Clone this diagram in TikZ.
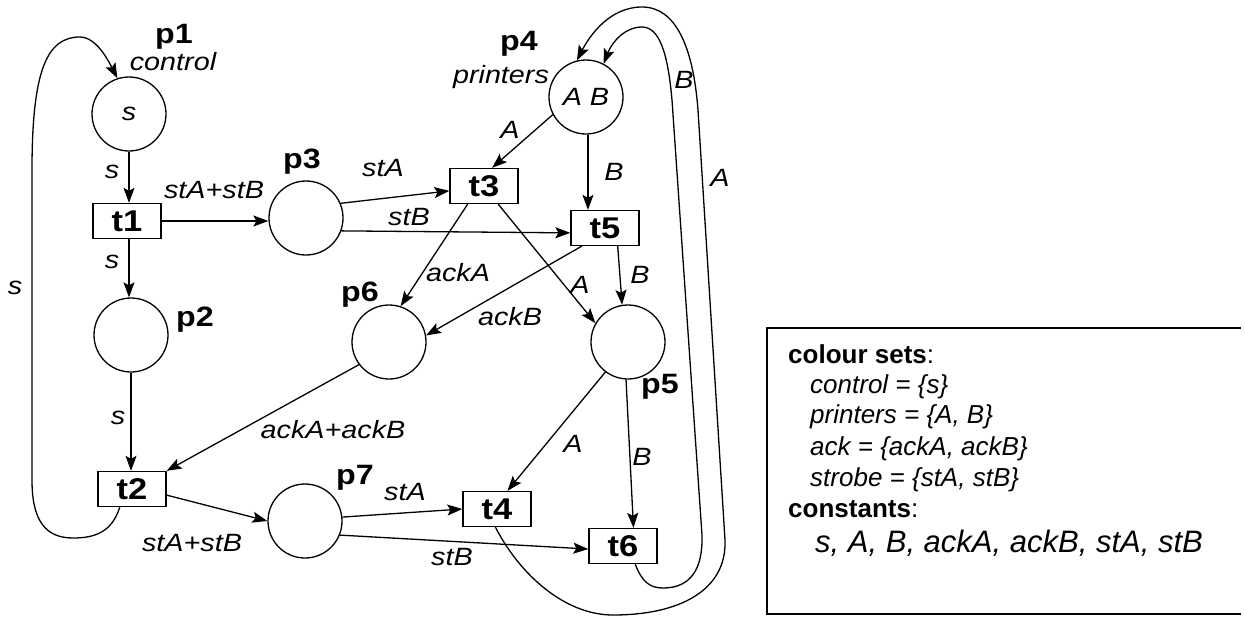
\documentclass[tikz,border=0pt]{standalone}
\usepackage{fontspec}
\setmainfont{Liberation Sans}
\newfontfamily\dfont[FakeStretch=1.15]{Liberation Sans}
\usetikzlibrary{arrows.meta}
\tikzset{
 place/.style={circle,draw,line width=1.3pt,minimum size=74pt,inner sep=0pt,font=\dfont\itshape\fontsize{25}{28}\selectfont},
 trans/.style={rectangle,draw,line width=1.3pt,minimum width=68pt,minimum height=35pt,inner sep=0pt,font=\dfont\bfseries\fontsize{30}{32}\selectfont},
 plab/.style={font=\dfont\bfseries\fontsize{28}{30}\selectfont,inner sep=0pt},
 clab/.style={font=\dfont\itshape\fontsize{25}{28}\selectfont,inner sep=0pt},
 alab/.style={font=\dfont\itshape\fontsize{25}{28}\selectfont,inner sep=0pt},
 arcline/.style={line width=1.3pt,-{Stealth[length=15pt,width=11pt,inset=3pt]}},
 loopline/.style={line width=1.3pt,-{Stealth[length=15pt,width=11pt,inset=3pt]}},
 boxt/.style={anchor=base west,inner sep=0pt,font=\fontsize{26}{30}\selectfont},
 boxi/.style={boxt,font=\itshape\fontsize{26}{30}\selectfont},
}
\begin{document}
\begin{tikzpicture}[x=1pt,y=-1pt]
\useasboundingbox (0,0) rectangle (1245,616);
% places
\node[place] (p1) at (129,114) {s};
\node[place] (p2) at (131,335) {};
\node[place] (p3) at (306,218) {};
\node[place] (p4) at (586,97) {A B};
\node[place] (p5) at (628,342) {};
\node[place] (p6) at (389,342) {};
\node[place] (p7) at (305,521) {};
% transitions
\node[trans] (t1) at (127,221) {t1};
\node[trans] (t2) at (132,489) {t2};
\node[trans] (t3) at (484,186) {t3};
\node[trans] (t4) at (497,509) {t4};
\node[trans] (t5) at (605,228) {t5};
\node[trans] (t6) at (623,546) {t6};
% place labels
\node[plab] (lp1) at (174,37) {p1};
\node[clab] (cp1) at (173,62) {control};
\node[plab] (lp2) at (195,320) {p2};
\node[plab] (lp3) at (302,162) {p3};
\node[plab] (lp4) at (519,44) {p4};
\node[clab] (cp4) at (501,77) {printers};
\node[plab] (lp5) at (660,387) {p5};
\node[plab] (lp6) at (360,295) {p6};
\node[plab] (lp7) at (355,478) {p7};
% arcs
\draw[arcline] (p1.south) -- (p1.south |- t1.north);
\draw[arcline] (t1.east) -- (t1.east -| p3.west);
\draw[arcline] (t1.south -| p1.south) -- (p2.north -| p1.south);
\draw[arcline] (p2.south) -- (p2.south |- t2.north);
\draw[arcline] (t2.-10) -- (p7.west);
\draw[arcline] (p6.217) -- (t2.north east);
\draw[arcline] (p3.23) -- (t3.188);
\draw[arcline] (p3.-20) -- (t5.188);
\draw[arcline] (p4.208) -- (t3.66);
\draw[arcline] (p4.273) -- (p4.273 |- t5.north);
\draw[arcline] (t3.228) -- (p6.72);
\draw[arcline] (t3.-52) -- (p5.150);
\draw[arcline] (t5.218) -- (p6.10);
\draw[arcline] (t5.-55) -- (p5.99);
\draw[arcline] (p7.6) -- (t4.west);
\draw[arcline] (p7.-22) -- (t6.185);
\draw[arcline] (p5.233) -- (t4.60);
\draw[arcline] (p5.267) -- (t6.60);
% loops
\draw[loopline] (t2.236) .. controls (112,532) and (95,538) .. (73,538)
  .. controls (45,538) and (32,520) .. (32,480) -- (32,170)
  .. controls (32,70) and (47,37) .. (80,37)
  .. controls (96,37) and (108,60) .. (p1.108);
\draw[loopline] (t4.265) .. controls (520,575) and (565,615) .. (613,615)
  .. controls (680,615) and (727,590) .. (725,540) -- (698,110)
  .. controls (693,45) and (675,7) .. (642,7)
  .. controls (610,7) and (590,35) .. (p4.104);
\draw[loopline] (t6.-56) .. controls (642,582) and (650,588) .. (663,588)
  .. controls (690,588) and (703,570) .. (702,535) -- (672,100)
  .. controls (668,55) and (660,27) .. (642,27)
  .. controls (625,27) and (612,42) .. (p4.62);
% arc labels
\node[alab] (a1) at (112,172) {s};
\node[alab] (a2) at (214,190) {stA+stB};
\node[alab] (a3) at (112,262) {s};
\node[alab] (a4) at (118,418) {s};
\node[alab] (a5) at (15,288) {s};
\node[alab] (a6) at (192,543) {stA+stB};
\node[alab] (a7) at (333,430) {ackA+ackB};
\node[alab] (a8) at (383,168) {stA};
\node[alab] (a9) at (409,217) {stB};
\node[alab] (a10) at (510,130) {A};
\node[alab] (a11) at (614,172) {B};
\node[alab] (a12) at (458,273) {ackA};
\node[alab] (a13) at (580,285) {A};
\node[alab] (a14) at (510,317) {ackB};
\node[alab] (a15) at (640,275) {B};
\node[alab] (a16) at (573,444) {A};
\node[alab] (a17) at (642,457) {B};
\node[alab] (a18) at (405,492) {stA};
\node[alab] (a19) at (452,557) {stB};
\node[alab] (a20) at (720,178) {A};
\node[alab] (a21) at (684,80) {B};
% declarations box (right side runs off the picture)
\draw[line width=1.3pt,line cap=butt] (1241,328) -- (767,328) -- (767,614) -- (1241,614);
\node[boxt] (d1) at (788,363) {\textbf{colour sets}:};
\node[boxi] (d2) at (810,393) {control = \{s\}};
\node[boxi] (d3) at (810,423) {printers = \{A, B\}};
\node[boxi] (d4) at (810,455) {ack = \{ackA, ackB\}};
\node[boxi] (d5) at (810,486) {strobe = \{stA, stB\}};
\node[boxt] (d6) at (788,517) {\textbf{constants}:};
\node[boxi,font=\itshape\fontsize{31}{34}\selectfont] (d7) at (815,552) {s, A, B, ackA, ackB, stA, stB};
\end{tikzpicture}
\end{document}
